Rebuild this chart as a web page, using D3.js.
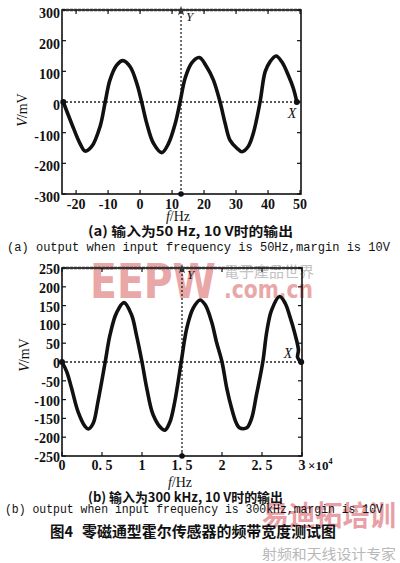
<!DOCTYPE html>
<html><head><meta charset="utf-8">
<script src="https://cdn.jsdelivr.net/npm/d3@7/dist/d3.min.js"></script>
<style>body{margin:0;background:#fff}svg{display:block}</style>
</head><body>
<script>
// ---- data ----
const aFreq = [-24, -21.4, -18.8, -17.2, -15.1, -12.5, -10.9, -9.4, -7.3, -5.4, -3.1, -1, 0.5, 2.1, 4.2, 6.8, 8.9, 11, 12.5, 14.1, 16.1, 18.5, 20.8, 22.9, 25, 26.6, 28.1, 30.2, 31.8, 33.8, 35.4, 37.5, 39.1, 40.6, 42.5, 44.3, 46.3, 47.9, 49];
const aVolt = [0, -70, -135, -160, -145, -80, 0, 72, 120, 135, 115, 60, 0, -70, -135, -165, -135, -70, 0, 78, 127, 145, 115, 72, 0, -70, -124, -150, -162, -145, -102, 0, 99, 131, 150, 131, 88, 45, 0];
const bFreq = [0, 0.06, 0.12, 0.2, 0.29, 0.33, 0.39, 0.45, 0.54, 0.6, 0.68, 0.775, 0.87, 0.93, 1.0, 1.06, 1.14, 1.25, 1.29, 1.35, 1.41, 1.49, 1.56, 1.64, 1.725, 1.79, 1.87, 1.93, 2.0, 2.06, 2.12, 2.18, 2.22, 2.31, 2.37, 2.43, 2.51, 2.56, 2.62, 2.72, 2.79, 2.85, 2.91, 2.955, 2.945, 2.99];
const bVolt = [0, -26, -70, -132, -172, -178, -163, -105, 0, 72, 130, 158, 125, 72, 0, -70, -141, -178, -181, -159, -105, 0, 90, 143, 165, 152, 107, 54, 0, -70, -123, -163, -175, -175, -150, -88, 0, 81, 138, 174, 156, 120, 76, 32, 12, 0];
const aXTicks = [-20, -10, 0, 10, 20, 30, 40, 50];
const aYTicks = [300, 200, 100, 0, -100, -200, -300];
const bXTicks = [0, 0.5, 1, 1.5, 2, 2.5, 3];
const bXLabels = ["0", "0. 5", "1", "1. 5", "2", "2. 5", "3"];
const bYTicks = [250, 200, 150, 100, 50, 0, -50, -100, -150, -200, -250];
const aMarkerX = 12.8, bMarkerX = 1.5;

const svg = d3.select("body").append("svg").attr("width", 400).attr("height", 563);
const serif = "'Liberation Serif', 'DejaVu Serif', serif";
const cjk = "'Noto Sans CJK SC', sans-serif";
const mono = "'Liberation Mono', 'DejaVu Sans Mono', monospace";

// watermarks (behind)
svg.append("text").attr("x", 90).attr("y", 298).attr("textLength", 126).attr("lengthAdjust", "spacingAndGlyphs")
  .attr("font-family", "'DejaVu Sans', sans-serif").attr("font-weight", "bold").attr("font-size", 48)
  .attr("fill", "#e9a7a7").text("EEPW");
svg.append("text").attr("x", 224).attr("y", 277).attr("textLength", 90).attr("lengthAdjust", "spacingAndGlyphs")
  .attr("font-family", "'Noto Sans CJK TC', sans-serif").attr("font-size", 15).attr("fill", "#c2c2c2").text("電子產品世界");
svg.append("text").attr("x", 224).attr("y", 298).attr("textLength", 89).attr("lengthAdjust", "spacingAndGlyphs")
  .attr("font-family", "'DejaVu Sans', sans-serif").attr("font-weight", "bold").attr("font-size", 25)
  .attr("fill", "#e9a7a7").text(".com.cn");
svg.append("text").attr("x", 262).attr("y", 526).attr("textLength", 134).attr("lengthAdjust", "spacingAndGlyphs")
  .attr("font-family", cjk).attr("font-weight", "bold").attr("font-size", 28).attr("fill", "#e58f96").attr("opacity", 0.85).text("易迪拓培训");
svg.append("text").attr("x", 262).attr("y", 559).attr("textLength", 134).attr("lengthAdjust", "spacingAndGlyphs")
  .attr("font-family", cjk).attr("font-size", 14).attr("fill", "#b8b8b8").text("射频和天线设计专家");

function panel(cfg) {
  const x = d3.scaleLinear(cfg.xDomain, [cfg.left, cfg.right]);
  const y = d3.scaleLinear(cfg.yDomain, [cfg.bottom, cfg.top]);
  const g = svg.append("g");
  g.append("line").attr("x1", x(cfg.xDomain[0])).attr("x2", x(cfg.xDomain[1])).attr("y1", y(0)).attr("y2", y(0))
    .attr("stroke", "#222").attr("stroke-width", 1.3).attr("stroke-dasharray", "2,2");
  g.append("line").attr("x1", x(cfg.markX)).attr("x2", x(cfg.markX)).attr("y1", y(cfg.yDomain[0])).attr("y2", y(cfg.yDomain[1]))
    .attr("stroke", "#222").attr("stroke-width", 1.3).attr("stroke-dasharray", "2,2");
  g.append("rect").attr("x", cfg.left).attr("y", cfg.top).attr("width", cfg.right - cfg.left).attr("height", cfg.bottom - cfg.top)
    .attr("fill", "none").attr("stroke", "#111").attr("stroke-width", 1.6);
  g.append("line").attr("x1", cfg.left).attr("x2", cfg.right).attr("y1", cfg.top).attr("y2", cfg.top)
    .attr("stroke", "#333").attr("stroke-width", 2.4).attr("stroke-dasharray", "3,1");
  cfg.yTicks.forEach(v => {
    g.append("line").attr("x1", cfg.left).attr("x2", cfg.left + 4).attr("y1", y(v)).attr("y2", y(v)).attr("stroke", "#111").attr("stroke-width", 1.2);
    g.append("line").attr("x1", cfg.right).attr("x2", cfg.right - 4).attr("y1", y(v)).attr("y2", y(v)).attr("stroke", "#111").attr("stroke-width", 1.2);
    g.append("text").attr("x", cfg.left - 2).attr("y", y(v) + cfg.yLabOff).attr("text-anchor", "end")
      .attr("font-family", serif).attr("font-weight", "bold").attr("font-size", 14).attr("fill", "#111").text(String(v));
  });
  cfg.xTicks.forEach((v, i) => {
    g.append("line").attr("x1", x(v)).attr("x2", x(v)).attr("y1", cfg.bottom).attr("y2", cfg.bottom - 4).attr("stroke", "#111").attr("stroke-width", 1.2);
    g.append("line").attr("x1", x(v)).attr("x2", x(v)).attr("y1", cfg.top).attr("y2", cfg.top + 4).attr("stroke", "#111").attr("stroke-width", 1.2);
    g.append("text").attr("x", x(v)).attr("y", cfg.bottom + cfg.xLabOff).attr("text-anchor", "middle")
      .attr("font-family", serif).attr("font-weight", "bold").attr("font-size", 14).attr("fill", "#111").text(cfg.xLabels[i]);
  });
  const pts = cfg.xs.map((d, i) => [d, cfg.ys[i]]);
  g.append("path").attr("d", d3.line().x(d => x(d[0])).y(d => y(d[1])).curve(d3.curveCatmullRom.alpha(0.5))(pts))
    .attr("fill", "none").attr("stroke", "#111").attr("stroke-width", 3.6).attr("stroke-linejoin", "round");
  const first = pts[0], last = pts[pts.length - 1];
  g.append("circle").attr("cx", x(first[0])).attr("cy", y(first[1])).attr("r", 3).attr("fill", "#111");
  g.append("circle").attr("cx", x(last[0])).attr("cy", y(last[1])).attr("r", 3).attr("fill", "#111");
  g.append("circle").attr("cx", x(cfg.markX)).attr("cy", cfg.bottom).attr("r", 2.8).attr("fill", "#111");
  g.append("path").attr("d", d3.symbol(d3.symbolStar, 30)()).attr("transform", `translate(${x(cfg.markX)},${cfg.top + 1})`).attr("fill", "#333");
  g.append("text").attr("x", x(cfg.markX) + 5).attr("y", cfg.top + 11).attr("font-family", serif).attr("font-style", "italic")
    .attr("font-size", 13).attr("fill", "#111").text("Y");
  g.append("text").attr("x", cfg.xLabX).attr("y", cfg.xLabY).attr("font-family", serif).attr("font-style", "italic")
    .attr("font-size", 14).attr("fill", "#111").attr("text-anchor", "middle").text("X");
  const yt = g.append("text").attr("transform", `translate(${cfg.yTitleX},${cfg.yTitleY}) rotate(-90)`).attr("text-anchor", "middle")
    .attr("font-family", serif).attr("font-size", 14).attr("fill", "#111");
  yt.append("tspan").attr("font-style", "italic").text("V");
  yt.append("tspan").text("/mV");
  const xt = g.append("text").attr("x", cfg.xTitleX).attr("y", cfg.xTitleY).attr("text-anchor", "middle")
    .attr("font-family", serif).attr("font-size", 14).attr("fill", "#111");
  xt.append("tspan").attr("font-style", "italic").text("f");
  xt.append("tspan").text("/Hz");
  return {x, y};
}

panel({xDomain: [-24.4, 50.3], yDomain: [-300, 300], left: 62, right: 301, top: 10, bottom: 194,
  xTicks: aXTicks, xLabels: aXTicks.map(String), yTicks: aYTicks, xs: aFreq, ys: aVolt, markX: aMarkerX,
  yLabOff: 8, xLabOff: 15, xLabX: 292, xLabY: 118, yTitleX: 27, yTitleY: 110, xTitleX: 178, xTitleY: 221});
panel({xDomain: [0, 3], yDomain: [-250, 250], left: 62, right: 302, top: 268, bottom: 456,
  xTicks: bXTicks, xLabels: bXLabels, yTicks: bYTicks, xs: bFreq, ys: bVolt, markX: bMarkerX,
  yLabOff: 6, xLabOff: 14, xLabX: 288, xLabY: 358, yTitleX: 29, yTitleY: 355, xTitleX: 180, xTitleY: 487});

const ex = svg.append("text").attr("x", 308).attr("y", 470).attr("font-family", serif).attr("font-weight", "bold")
  .attr("font-size", 13).attr("fill", "#111");
ex.append("tspan").text("×10");
ex.append("tspan").attr("dy", -6).attr("font-size", 8).text("4");

function cap(txt, x1, x2, y, font, size, weight) {
  svg.append("text").attr("x", x1).attr("y", y).attr("textLength", x2 - x1).attr("lengthAdjust", "spacingAndGlyphs")
    .attr("font-family", font).attr("font-size", size).attr("font-weight", weight).attr("fill", "#111").text(txt);
}
cap("(a) 输入为50 Hz, 10 V时的输出", 88, 293, 236, cjk, 13, "bold");
cap("(a) output when input frequency is 50Hz,margin is 10V", 7, 390, 251, mono, 12, "normal");
cap("(b) 输入为300 kHz, 10 V时的输出", 88, 283, 502, cjk, 13, "bold");
cap("(b) output when input frequency is 300kHz,margin is 10V", 5, 383, 513, mono, 12, "normal");
cap("图4", 50, 73, 537, cjk, 15, "bold");
cap("零磁通型霍尔传感器的频带宽度测试图", 82, 336, 537, cjk, 15, "bold");
</script>
</body></html>
